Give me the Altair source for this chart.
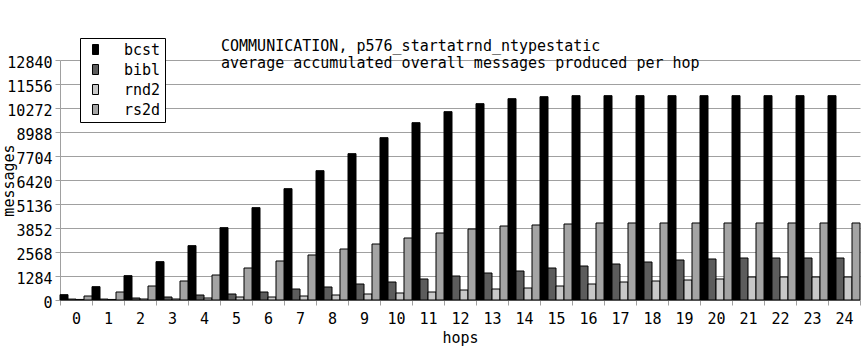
import altair as alt
import pandas as pd

hops = list(range(25))
series_names = ["bcst", "bibl", "rnd2", "rs2d"]
bcst = [285, 713, 1302, 2051, 2907, 3870, 4940, 5956, 6919, 7829, 8685, 9487, 10076,
        10504, 10771, 10878, 10932, 10932, 10932, 10932, 10932, 10932, 10932, 10932, 10932]
bibl = [50, 50, 107, 160, 267, 321, 428, 588, 696, 856, 963, 1124, 1284,
        1444, 1551, 1712, 1819, 1926, 2033, 2140, 2194, 2247, 2247, 2247, 2247]
rnd2 = [30, 30, 53, 53, 107, 160, 160, 214, 267, 321, 375, 428, 535,
        588, 642, 749, 856, 963, 1016, 1070, 1124, 1230, 1230, 1230, 1230]
rs2d = [214, 428, 749, 1016, 1337, 1712, 2087, 2408, 2728, 2996, 3317, 3584, 3798,
        3959, 4013, 4066, 4120, 4120, 4120, 4120, 4120, 4120, 4120, 4120, 4120]
y_ticks = [0, 1284, 2568, 3852, 5136, 6420, 7704, 8988, 10272, 11556, 12840]
title_lines = ["COMMUNICATION, p576_startatrnd_ntypestatic",
               "average accumulated overall messages produced per hop"]

rows = []
for name, vals in zip(series_names, [bcst, bibl, rnd2, rs2d]):
    for h, v in zip(hops, vals):
        rows.append({"hop": h, "series": name, "messages": v})
df = pd.DataFrame(rows)

FONT = "DejaVu Sans Mono"
GRID = "#a0a0a0"

chart = alt.Chart(df).mark_bar(stroke="black", strokeWidth=1).encode(
    x=alt.X("hop:O", title="hops",
            scale=alt.Scale(paddingInner=0, paddingOuter=0),
            axis=alt.Axis(labelAngle=0, tickBand="extent", tickSize=5, tickColor=GRID,
                          domainColor=GRID, labelPadding=6, titlePadding=4, grid=False,
                          labelFont=FONT, labelFontSize=15, labelColor="black",
                          titleFont=FONT, titleFontSize=15, titleFontWeight="normal",
                          titleColor="black")),
    xOffset=alt.XOffset("series:N", sort=series_names,
                        scale=alt.Scale(paddingInner=0, paddingOuter=0)),
    y=alt.Y("messages:Q", title="messages",
            scale=alt.Scale(domain=[0, 12840], nice=False, zero=True),
            axis=alt.Axis(values=y_ticks, format="d", tickSize=5, tickColor=GRID,
                          domainColor=GRID, gridColor=GRID, grid=True, labelPadding=3,
                          labelOffset=2, titleX=-52, titleY=120, titleAngle=270,
                          titleAlign="center", titleBaseline="middle",
                          labelFont=FONT, labelFontSize=15, labelColor="black",
                          titleFont=FONT, titleFontSize=15, titleFontWeight="normal",
                          titleColor="black")),
    fill=alt.Fill("series:N", sort=series_names,
                  scale=alt.Scale(domain=series_names,
                                  range=["#000000", "#5c5c5c", "#c8c8c8", "#a4a4a4"]),
                  legend=alt.Legend(title=None, orient="none", legendX=20, legendY=-22,
                                    strokeColor="black", fillColor="white", padding=4,
                                    symbolType="M-0.6,-1H0.6V1H-0.6Z", symbolSize=100,
                                    symbolStrokeColor="black", symbolStrokeWidth=1,
                                    symbolOffset=4, labelOffset=21, rowPadding=4,
                                    labelFont=FONT, labelFontSize=15, labelColor="black")),
).properties(
    width=800, height=240,
    background="white",
    autosize=alt.AutoSizeParams(type="none"),
    padding={"left": 60, "top": 60, "right": 2, "bottom": 60},
    title=alt.TitleParams(text=title_lines, anchor="start", frame="group", orient="top",
                          dx=161, dy=45, offset=0, font=FONT, fontSize=15,
                          fontWeight="normal", color="black", lineHeight=17,
                          baseline="alphabetic"),
).configure_axis(
    domainWidth=1, gridWidth=1, tickWidth=1,
).configure_view(stroke=None)

chart.save("out.html", embed_options={"renderer": "svg", "actions": False})
